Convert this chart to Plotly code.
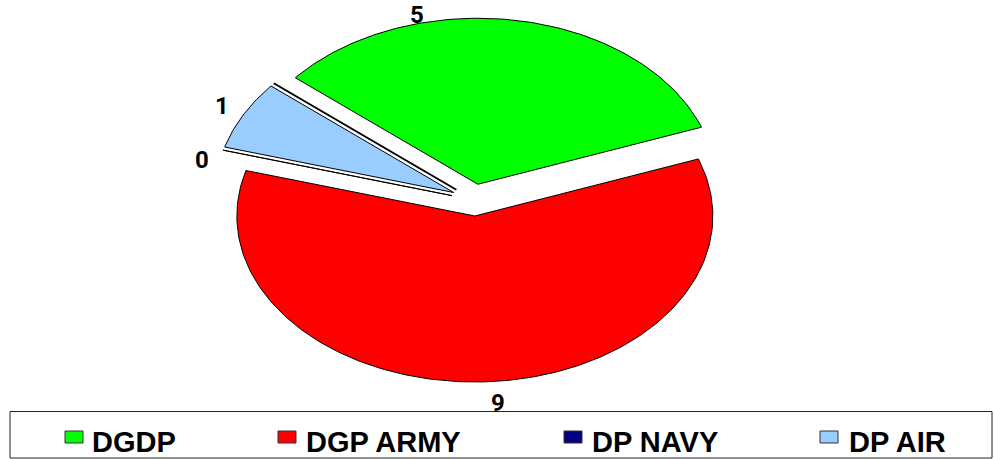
import numpy as np
import plotly.graph_objects as go

categories = ["DGDP", "DGP ARMY", "DP NAVY", "DP AIR"]
values = [5, 9, 0, 1]
colors = ["#00ff00", "#ff0000", "#000080", "#99ccff"]

FONT = "Liberation Sans"
NUM_FONT = "Roboto"
CX, CY = 474, 200
RX, RY = 238, 166
EX, EY = 23, 16
START = -50.1
LABEL_POS = [(417, 15), (498, 403), (202, 160), (222, 106)]
LEG_SW = [65, 278, 564, 820]
LEG_TX = [90, 304, 590, 847]

total = sum(values)
fig = go.Figure()


def polar(a, cx, cy):
    r = np.radians(a)
    return cx + RX * np.sin(r), cy - RY * np.cos(r)


ang = START
for name, val, col in zip(categories, values, colors):
    span = 360.0 * val / total
    mid = np.radians(ang + span / 2)
    tx, ty = CX + EX * np.sin(mid), CY - EY * np.cos(mid)
    arc = np.linspace(ang, ang + span, max(2, int(span) + 2))
    px, py = polar(arc, tx, ty)
    fig.add_trace(go.Scatter(
        x=[tx, *px, tx], y=[ty, *py, ty], mode="lines", name=name,
        fill="toself", fillcolor=col, line=dict(color="black", width=1),
        showlegend=False, hoverinfo="name",
    ))
    ang += span

# trailing zero-size slice drawn by the source chart along the first boundary
mid = np.radians(START)
tx, ty = CX + EX * np.sin(mid), CY - EY * np.cos(mid)
ex, ey = polar(START, tx, ty)
fig.add_trace(go.Scatter(x=[tx, ex], y=[ty, ey], mode="lines",
                         line=dict(color="black", width=2),
                         showlegend=False, hoverinfo="skip"))

annotations = []
for val, (lx, ly) in zip(values, LABEL_POS):
    annotations.append(dict(x=lx, y=ly, xref="x", yref="y", text=str(val), showarrow=False,
                            font=dict(family=NUM_FONT, size=24, color="black")))
shapes = [dict(type="rect", xref="x", yref="y", x0=10, y0=411.5, x1=992, y1=458,
               line=dict(color="#222222", width=1), fillcolor="white", layer="below")]
for name, col, sx, tx_ in zip(categories, colors, LEG_SW, LEG_TX):
    shapes.append(dict(type="rect", xref="x", yref="y", x0=sx, x1=sx + 18, y0=431, y1=443,
                       line=dict(color="#333333", width=1), fillcolor=col))
    annotations.append(dict(x=tx_, y=442, xref="x", yref="y", text=name, showarrow=False,
                            xanchor="left", yanchor="middle",
                            font=dict(family=FONT, size=29, color="black")))
for a in annotations:
    a["text"] = "<b>" + a["text"] + "</b>"

fig.update_layout(
    width=994, height=459, autosize=False,
    margin=dict(l=0, r=0, t=0, b=0),
    paper_bgcolor="white", plot_bgcolor="white",
    xaxis=dict(range=[0, 994], visible=False, fixedrange=True),
    yaxis=dict(range=[459, 0], visible=False, fixedrange=True),
    shapes=shapes, annotations=annotations, showlegend=False,
)
fig.write_html(
    "out.html",
    config={"displayModeBar": False},
    post_script="document.body.style.margin='0';document.body.style.overflow='hidden';",
)
